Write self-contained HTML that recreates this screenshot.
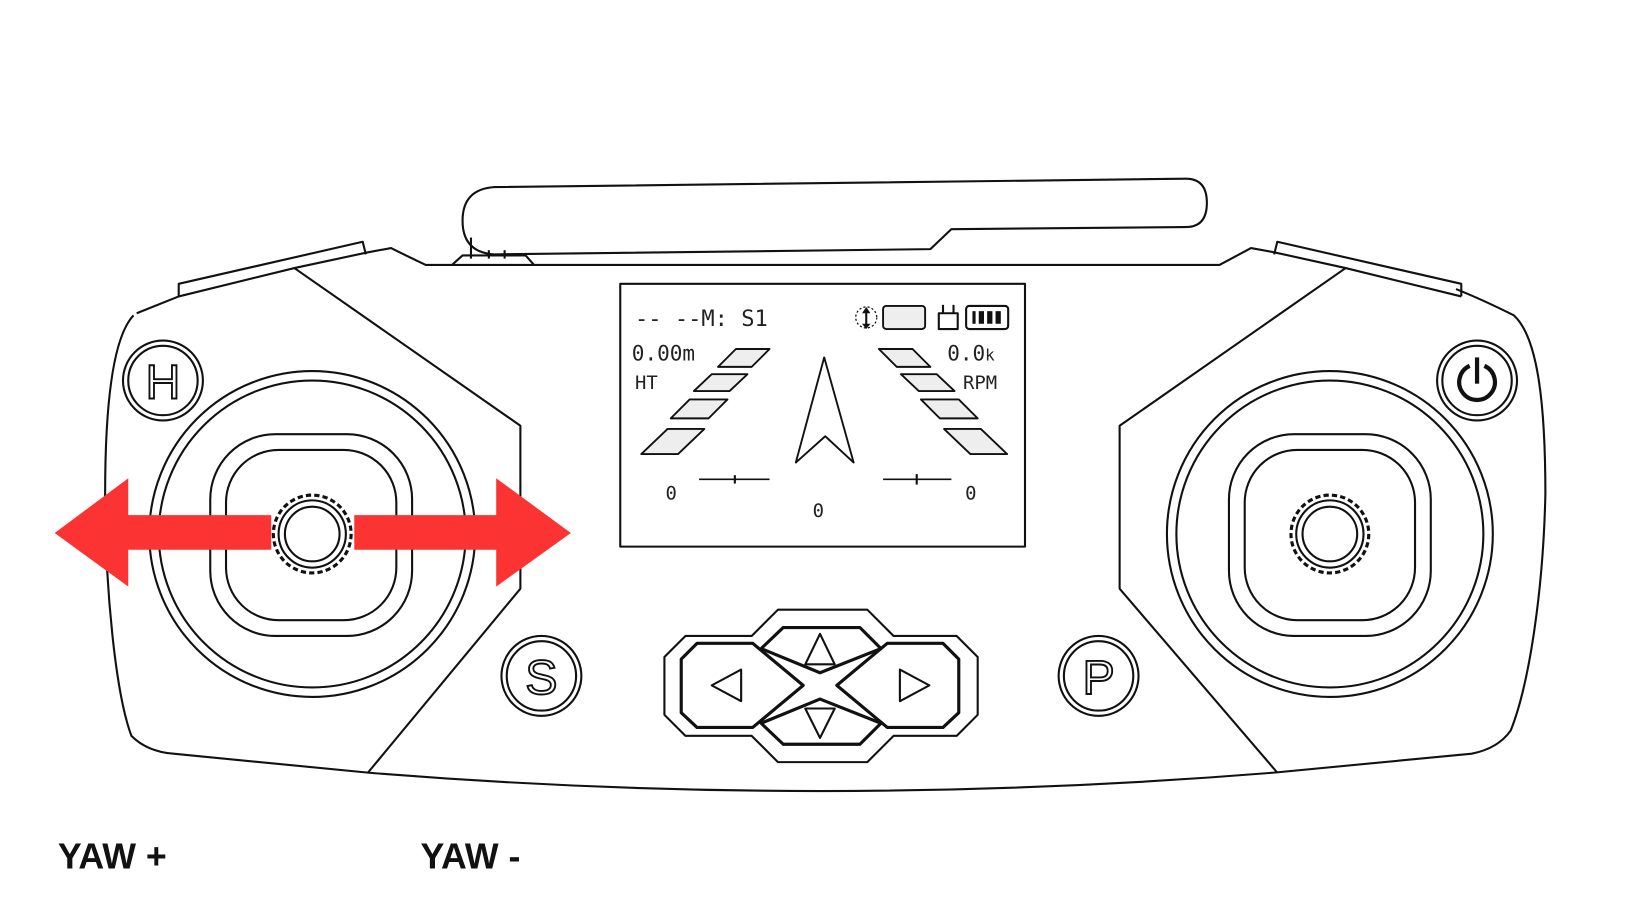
<!DOCTYPE html>
<html><head><meta charset="utf-8"><style>
html,body{margin:0;padding:0;background:#fff;}
svg{display:block;}
</style></head><body>
<svg width="1640" height="924" viewBox="0 0 1560 879" preserveAspectRatio="none" xmlns="http://www.w3.org/2000/svg">
<rect width="1560" height="879" fill="#fff"/>
<g fill="none" stroke="#111" stroke-width="2" stroke-linejoin="round">
<path d="M470,178 L1128,170 Q1148,170 1148,193 Q1148,216 1128,216 L905,218 L885,237 L470,242 Q440,240 440,210 Q440,180 470,178 Z"/>
<path d="M430,252 L440,243 L500,243 L508,252"/>
<line x1="448" y1="226" x2="448" y2="246"/><line x1="465" y1="238" x2="465" y2="246"/><line x1="480" y1="238" x2="480" y2="246"/>
<path d="M127,300 C108,320 100,380 100,470 C100,560 110,660 125,700 Q140,715 165,717 L350,735 Q780,770 1212,735 L1400,717 Q1425,712 1437,695 C1455,650 1468,560 1470,470 C1470,380 1462,320 1440,300 Q1410,285 1385,275"/>
<path d="M170,282 L280,255 L350,240 L372,236 Q390,245 405,252 L1160,252 L1190,236 L1212,240 L1280,255 L1390,282"/>
<path d="M170,282 L170,270 L345,230 L348,242"/>
<path d="M1390,282 L1390,270 L1215,230 L1212,242"/>
<path d="M130,298 L170,282"/>
<path d="M280,255 L495,405 L495,560 L350,735"/>
<path d="M1280,255 L1065,405 L1065,560 L1215,735"/>
<circle cx="297" cy="508" r="155"/><circle cx="297" cy="508" r="146"/>
<rect x="200" y="413" width="192" height="192" rx="62"/>
<rect x="215" y="428" width="162" height="162" rx="50"/>
<circle cx="1265" cy="508" r="155"/><circle cx="1265" cy="508" r="146"/>
<rect x="1169" y="413" width="192" height="192" rx="62"/>
<rect x="1184" y="428" width="162" height="162" rx="50"/>
<circle cx="297" cy="508" r="37" stroke-width="3" stroke-dasharray="5 3"/>
<circle cx="297" cy="508" r="32"/><circle cx="297" cy="508" r="26"/>
<circle cx="1265" cy="508" r="37" stroke-width="3" stroke-dasharray="5 3"/>
<circle cx="1265" cy="508" r="32"/><circle cx="1265" cy="508" r="26"/>
<circle cx="155" cy="362" r="38"/><circle cx="155" cy="362" r="33"/>
<circle cx="1405" cy="362" r="38"/><circle cx="1405" cy="362" r="33"/>
<circle cx="515" cy="643" r="38"/><circle cx="515" cy="643" r="33"/>
<circle cx="1045" cy="643" r="38"/><circle cx="1045" cy="643" r="33"/>
<path d="M1398,348 A17,17 0 1 0 1412,348" stroke-width="4"/><line x1="1405" y1="340" x2="1405" y2="365" stroke-width="4"/>
<path d="M632,625 L652,605 L715,605 L740,580 L825,580 L850,605 L910,605 L930,625 L930,680 L910,700 L850,700 L825,725 L740,725 L715,700 L652,700 L632,680 Z"/>
<path d="M724,617 L745,597 L818,597 L838,617 L780,640 Z" stroke-width="3"/>
<path d="M724,688 L745,708 L818,708 L838,688 L780,665 Z" stroke-width="3"/>
<path d="M648,627 L663,612 L716,612 L764,652 L716,692 L663,692 L648,678 Z" stroke-width="3"/>
<path d="M912,627 L897,612 L844,612 L796,652 L844,692 L897,692 L912,678 Z" stroke-width="3"/>
<path d="M780,603 L766,632 L794,632 Z"/>
<path d="M780,702 L766,674 L794,674 Z"/>
<path d="M677,652 L705,637 L705,667 Z"/>
<path d="M884,652 L856,637 L856,667 Z"/>
<rect x="590" y="270" width="385" height="250" stroke-width="2"/>
<g fill="#eee" stroke-width="1.8">
<path d="M683,349 L700,332 L732,332 L715,349 Z"/>
<path d="M660,372 L677,356 L711,356 L694,372 Z"/>
<path d="M638,398 L656,380 L692,380 L674,398 Z"/>
<path d="M610,432 L635,408 L670,408 L645,432 Z"/>
<path d="M885,349 L868,332 L836,332 L853,349 Z"/>
<path d="M908,372 L891,356 L857,356 L874,372 Z"/>
<path d="M930,398 L912,380 L876,380 L894,398 Z"/>
<path d="M958,432 L933,408 L898,408 L923,432 Z"/>
<rect x="840" y="291" width="40" height="22" rx="3"/>
</g>
<rect x="919" y="291" width="40" height="22" rx="3"/>
<path d="M784,340 L812,440 L785,415 L757,440 Z" stroke-width="1.8"/>
<line x1="665" y1="456" x2="732" y2="456" stroke-width="1.5"/><line x1="699" y1="452" x2="699" y2="460"/>
<line x1="840" y1="456" x2="905" y2="456" stroke-width="1.5"/><line x1="872" y1="451" x2="872" y2="461"/>
<rect x="893" y="298" width="18" height="15"/><line x1="897" y1="290" x2="897" y2="298"/><line x1="907" y1="290" x2="907" y2="298"/>
<circle cx="824" cy="302" r="10" stroke-dasharray="2 2" stroke-width="1.2"/>
</g>
<g fill="#111">
<rect x="925" y="296" width="3" height="12"/><rect x="931" y="296" width="5" height="12"/><rect x="939" y="296" width="5" height="12"/><rect x="947" y="296" width="5" height="12"/>
<path d="M824,292 L828,298 L825,298 L825,308 L828,308 L824,313 L820,308 L823,308 L823,298 L820,298 Z"/>
</g>
<g font-family="'DejaVu Sans Mono','Liberation Mono',monospace" fill="#222">
<text x="604" y="310" font-size="21">-- --M: S1</text>
<text x="601" y="343" font-size="20">0.00m</text>
<text x="604" y="370" font-size="18">HT</text>
<text x="901" y="343" font-size="20">0.0<tspan font-size="15">k</tspan></text>
<text x="916" y="370" font-size="18">RPM</text>
<text x="633" y="475" font-size="18">0</text>
<text x="773" y="492" font-size="18">0</text>
<text x="918" y="475" font-size="18">0</text>
</g>
<g font-family="'Liberation Sans',sans-serif" fill="none" stroke="#111" stroke-width="1.8" font-size="46" text-anchor="middle">
<text x="155" y="379">H</text>
<text x="515" y="660">S</text>
<text x="1045" y="660">P</text>
</g>
<g fill="#fb3333">
<path d="M52,507 L122,455 L122,490 L258,490 L258,523 L122,523 L122,558 Z"/>
<path d="M543,507 L472,455 L472,490 L337,490 L337,523 L472,523 L472,558 Z"/>
</g>
<g font-family="'Liberation Sans',sans-serif" font-weight="bold" font-size="34" fill="#111">
<text x="55" y="826">YAW +</text>
<text x="400" y="826">YAW -</text>
</g>
</svg>
</body></html>
